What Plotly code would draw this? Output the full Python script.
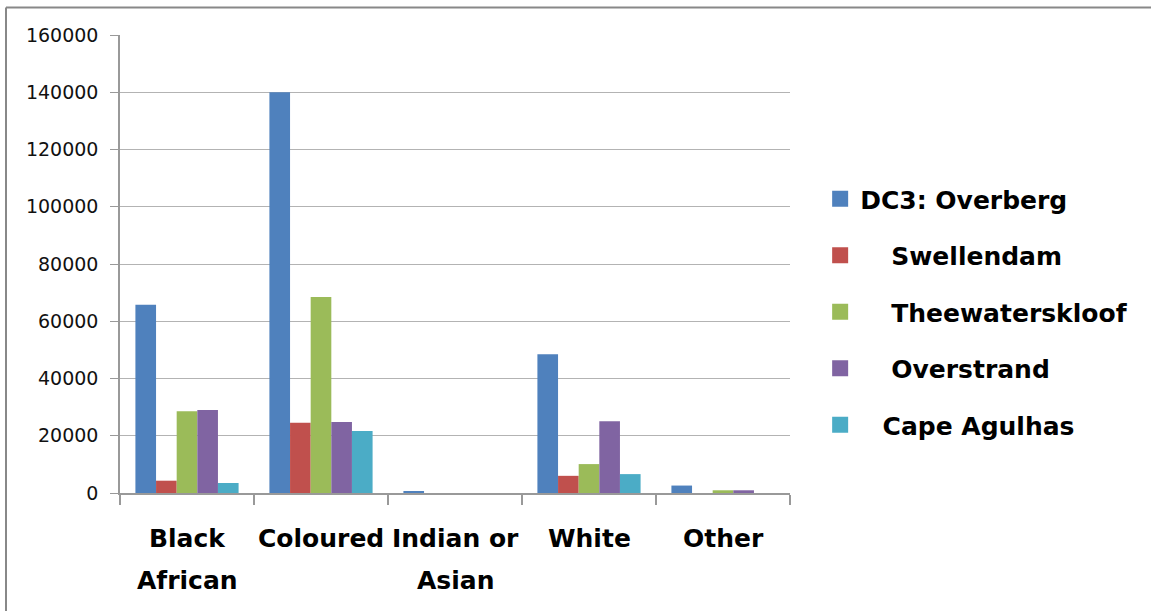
import plotly.graph_objects as go

categories = ["Black African", "Coloured", "Indian or Asian", "White", "Other"]
label_line1 = ["Black", "Coloured", "Indian or", "White", "Other"]
label_line2 = ["African", "", "Asian", "", ""]
series_names = ["DC3: Overberg", "\u00a0\u00a0\u00a0\u2009Swellendam", "\u00a0\u00a0\u00a0\u2009Theewaterskloof",
                "\u00a0\u00a0\u00a0\u2009Overstrand", "\u00a0\u00a0\u2009Cape Agulhas"]
overberg = [65800, 140000, 500, 48500, 2600]
swellendam = [4300, 24500, 0, 6000, 0]
theewaterskloof = [28600, 68500, 0, 10100, 950]
overstrand = [29000, 24800, 0, 25100, 950]
cape_agulhas = [3500, 21700, 0, 6600, 0]
colors = ["#4F81BD", "#C0504D", "#9BBB59", "#8064A2", "#4BACC6"]
y_ticks = [0, 20000, 40000, 60000, 80000, 100000, 120000, 140000, 160000]

values = [overberg, swellendam, theewaterskloof, overstrand, cape_agulhas]

fig = go.Figure()
for i, (name, vals) in enumerate(zip(series_names, values)):
    fig.add_trace(go.Bar(x=categories, y=vals, name=name, showlegend=False,
                         marker=dict(color=colors[i], line=dict(width=0))))
# legend entries with larger square swatches
for i, name in enumerate(series_names):
    fig.add_trace(go.Scatter(x=[None], y=[None], mode="markers", name=name, legendgroup=str(i),
                             marker=dict(symbol="square", size=18, color=colors[i])))

label_font = dict(size=25, family="DejaVu Sans", color="#000", weight="bold")
annotations = []
for cat, l1, l2 in zip(categories, label_line1, label_line2):
    annotations.append(dict(x=cat, y=(493 - 538) / 458, xref="x", yref="paper", text=l1,
                            showarrow=False, xanchor="center", yanchor="middle", font=label_font))
    if l2:
        annotations.append(dict(x=cat, y=(493 - 580) / 458, xref="x", yref="paper", text=l2,
                                showarrow=False, xanchor="center", yanchor="middle", font=label_font))

fig.update_layout(
    width=1151, height=611,
    margin=dict(l=120, r=361, t=35, b=118),
    paper_bgcolor="white", plot_bgcolor="white",
    barmode="group", bargap=0.23, bargroupgap=0,
    font=dict(family="DejaVu Sans", color="#000000"),
    showlegend=True,
    legend=dict(x=1.045, y=0.395, xanchor="left", yanchor="middle",
                font=dict(size=25, family="DejaVu Sans", color="#000", weight="bold"),
                tracegroupgap=21, traceorder="grouped", itemwidth=30),
    xaxis=dict(showline=True, linecolor="#999999", linewidth=1.5, ticks="outside",
               tickson="boundaries", ticklen=10, tickcolor="#999999", tickwidth=1.5,
               showticklabels=False, range=[-0.5, 4.5]),
    yaxis=dict(range=[0, 160000], tickvals=y_ticks, ticktext=[str(v) for v in y_ticks],
               showgrid=True, gridcolor="#B3B3B3", gridwidth=1.2, zeroline=False,
               showline=True, linecolor="#999999", linewidth=1.5, ticks="outside",
               ticklen=8, tickcolor="#999999", ticklabelstandoff=8,
               tickfont=dict(size=19, family="DejaVu Sans", color="#111")),
    annotations=annotations,
    shapes=[
        dict(type="line", xref="paper", yref="paper", x0=(6 - 120) / 670, x1=(1160 - 120) / 670,
             y0=(493 - 7.5) / 458, y1=(493 - 7.5) / 458, line=dict(color="#888888", width=2)),
        dict(type="line", xref="paper", yref="paper", x0=(6 - 120) / 670, x1=(6 - 120) / 670,
             y0=(493 - 7.5) / 458, y1=(493 - 620) / 458, line=dict(color="#888888", width=2)),
    ],
)

fig.write_html("out.html")
